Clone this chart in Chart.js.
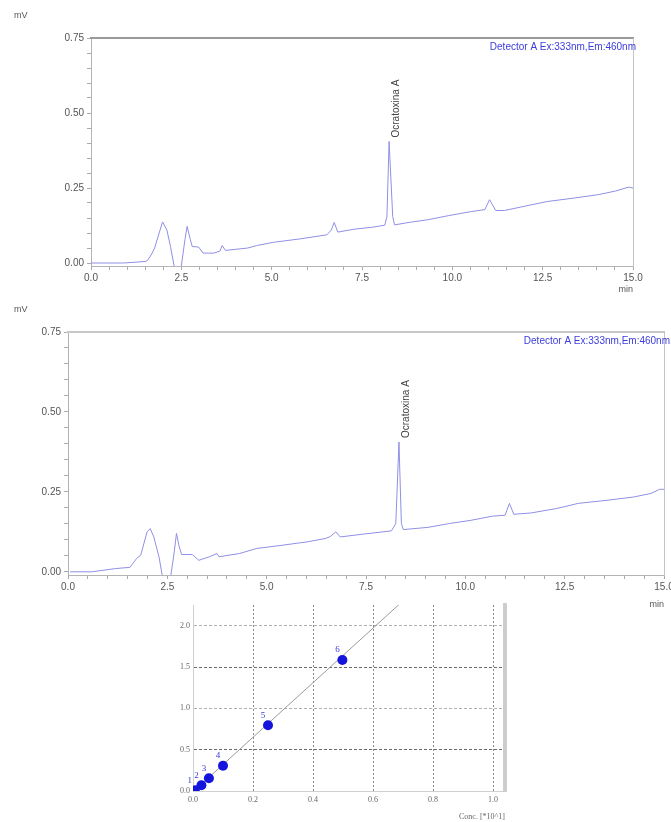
<!DOCTYPE html>
<html lang="en">

<head>
  <meta charset="UTF-8" />
  <title>Ochratoxin A chromatograms</title>
  <script src="https://cdn.jsdelivr.net/npm/chart.js"></script>
  <style>
    * {
      padding: 0;
      margin: 0;
    }

    html, body {
      background-color: #ffffff;
      width: 671px;
      height: 822px;
      overflow: hidden;
    }

    .panel {
      position: absolute;
      left: 0;
    }
  </style>
</head>

<body>
  <div class="panel" style="top:0px;"><canvas id="chromA" width="671" height="295"></canvas></div>
  <div class="panel" style="top:295px;"><canvas id="chromB" width="671" height="315"></canvas></div>
  <div class="panel" style="top:592px;"><canvas id="calib" width="671" height="230"></canvas></div>
</body>

<script>
  // Chromatogram 1 (retention time in min, signal in mV)
  const timeA = [0.0, 0.9, 1.5, 1.56, 1.68, 1.76, 1.98, 2.1, 2.2, 2.3, 2.4, 2.5, 2.6, 2.66, 2.75, 2.8, 2.98, 3.1, 3.4, 3.57,
    3.63, 3.72, 4.34, 4.58, 5.05, 5.76, 6.53, 6.65, 6.73, 6.83, 7.3, 7.77, 8.13, 8.19, 8.25, 8.35, 8.4, 8.84, 9.31, 9.9,
    10.5, 10.9, 11.03, 11.2, 11.44, 12.03, 12.63, 13.34, 14.05, 14.52, 14.88, 15.0];
  const signalA = [0.0, 0.0, 0.005, 0.008, 0.03, 0.05, 0.137, 0.11, 0.055, -0.01, -0.04, -0.01, 0.078, 0.122, 0.078, 0.055, 0.053, 0.033, 0.033, 0.04,
    0.058, 0.042, 0.05, 0.058, 0.069, 0.08, 0.094, 0.11, 0.135, 0.103, 0.113, 0.119, 0.126, 0.155, 0.405, 0.155, 0.127, 0.136, 0.144, 0.158,
    0.171, 0.178, 0.211, 0.175, 0.175, 0.19, 0.205, 0.216, 0.228, 0.24, 0.253, 0.25];

  // Chromatogram 2
  const timeB = [0.05, 0.6, 1.19, 1.56, 1.73, 1.83, 1.99, 2.07, 2.16, 2.29, 2.37, 2.48, 2.59, 2.68, 2.73, 2.8, 2.86, 3.13, 3.29, 3.56,
    3.75, 3.8, 4.31, 4.75, 5.39, 6.04, 6.47, 6.6, 6.74, 6.85, 7.44, 8.14, 8.25, 8.33, 8.39, 8.44, 9.06, 9.6, 10.14, 10.68,
    11.0, 11.11, 11.22, 11.65, 12.3, 12.84, 13.59, 14.24, 14.67, 14.89, 15.0];
  const signalB = [0.0, 0.0, 0.01, 0.014, 0.042, 0.052, 0.125, 0.135, 0.109, 0.047, -0.01, -0.04, -0.01, 0.068, 0.12, 0.078, 0.054, 0.054, 0.036, 0.047,
    0.057, 0.047, 0.057, 0.073, 0.083, 0.094, 0.104, 0.11, 0.125, 0.109, 0.118, 0.128, 0.151, 0.406, 0.151, 0.132, 0.139, 0.151, 0.161, 0.174,
    0.177, 0.214, 0.18, 0.184, 0.198, 0.214, 0.224, 0.234, 0.245, 0.258, 0.258];

  // Calibration curve
  const calConc = [0.006, 0.028, 0.053, 0.1, 0.25, 0.498];
  const calArea = [0.008, 0.069, 0.155, 0.306, 0.796, 1.584];
  const calLabels = ['1', '2', '3', '4', '5', '6'];
  const fitConc = [0, 0.7];
  const fitArea = [-0.01, 2.3];

  const detectorText = 'Detector A Ex:333nm,Em:460nm';
  const peakName = 'Ocratoxina A';

  const sans = "'Liberation Sans', Arial, sans-serif";
  const serif = "'Liberation Serif', 'Times New Roman', serif";

  Chart.defaults.font.family = sans;
  Chart.defaults.animation = false;

  function isMultiple(v, step) {
    const r = v / step;
    return Math.abs(r - Math.round(r)) < 1e-6;
  }

  // Draws free text; each item gives its own position from the chart
  function textPlugin(items) {
    return {
      id: 'freeText',
      afterDraw(chart) {
        const ctx = chart.ctx;
        items.forEach(item => {
          const pos = item.place(chart);
          ctx.save();
          ctx.font = item.font;
          ctx.fillStyle = item.color;
          ctx.textAlign = item.align || 'left';
          ctx.textBaseline = item.baseline || 'middle';
          ctx.translate(pos[0], pos[1]);
          if (item.rotate) ctx.rotate(item.rotate);
          ctx.fillText(item.text, 0, 0);
          ctx.restore();
        });
      }
    };
  }

  function chromatogram(id, times, signal, box) {
    const canvas = document.getElementById(id);
    const W = canvas.width, H = canvas.height;
    const peak = signal.indexOf(Math.max(...signal));
    const labels = [
      { text: 'mV', font: '9px ' + sans, color: '#555', place: c => [box.unitX, box.unitY] },
      { text: detectorText, font: '10px ' + sans, color: '#3c3cdc', align: 'right', baseline: 'top',
        place: c => [c.chartArea.right + box.legendDx, c.chartArea.top + 4] },
      { text: peakName, font: '10px ' + sans, color: '#444', rotate: -Math.PI / 2,
        place: c => [c.scales.x.getPixelForValue(times[peak]) + 7, c.scales.y.getPixelForValue(signal[peak]) - 4] }
    ];

    return new Chart(canvas, {
      type: 'scatter',
      data: {
        datasets: [{
          data: times.map((t, i) => ({ x: t, y: signal[i] })),
          showLine: true,
          borderColor: '#8f8fe6',
          borderWidth: 1,
          pointRadius: 0,
          tension: 0
        }]
      },
      options: {
        responsive: false,
        layout: { padding: { left: 0, top: box.top, right: W - box.right, bottom: 0 } },
        plugins: { legend: { display: false }, tooltip: { enabled: false } },
        scales: {
          x: {
            type: 'linear', min: 0, max: 15,
            ticks: {
              stepSize: 0.5, maxTicksLimit: 100, autoSkip: false, maxRotation: 0, padding: 2,
              color: '#555', font: { size: 10 },
              callback: v => isMultiple(v, 2.5) ? v.toFixed(1) : ''
            },
            grid: { drawOnChartArea: false, tickLength: 4, color: '#aaa' },
            border: { color: '#b4b4b4' },
            title: { display: true, text: 'min', align: 'end', color: '#555', font: { size: 9 }, padding: 0 },
            afterFit: s => { s.height = H - box.bottom; s.paddingLeft = 0; s.paddingRight = 0; }
          },
          y: {
            type: 'linear', min: -0.01, max: 0.75,
            ticks: {
              stepSize: 0.05, maxTicksLimit: 100, autoSkip: false, includeBounds: false, padding: 3,
              color: '#555', font: { size: 10 },
              callback: v => isMultiple(v, 0.25) ? v.toFixed(2) : ''
            },
            grid: { drawOnChartArea: false, tickLength: 4, color: '#aaa' },
            border: { color: '#b4b4b4' },
            afterFit: s => { s.width = box.left; s.paddingTop = 0; s.paddingBottom = 0; }
          },
          xTop: {
            type: 'linear', position: 'top',
            ticks: { display: false },
            grid: { display: false },
            border: { color: box.frameColor, width: box.frameWidth },
            afterFit: s => { s.height = 0; }
          },
          yRight: {
            type: 'linear', position: 'right',
            ticks: { display: false },
            grid: { display: false },
            border: { color: '#c4c4c4', width: 1 },
            afterFit: s => { s.width = 0; }
          }
        }
      },
      plugins: [textPlugin(labels)]
    });
  }

  chromatogram('chromA', timeA, signalA, {
    left: 91, right: 633, top: 38, bottom: 266,
    unitX: 14, unitY: 16, legendDx: 3, frameColor: '#9a9a9a', frameWidth: 2
  });

  chromatogram('chromB', timeB, signalB, {
    left: 68, right: 664, top: 37, bottom: 280,
    unitX: 14, unitY: 15, legendDx: 6, frameColor: '#c8c8c8', frameWidth: 2
  });

  // Calibration plot
  const calCanvas = document.getElementById('calib');
  const calBox = { left: 193, right: 505, top: 13, bottom: 199 };
  const calText = calLabels.map((lab, i) => ({
    text: lab, font: '9px ' + serif, color: '#3a3ad8', align: 'center',
    place: c => [c.scales.x.getPixelForValue(calConc[i]) - 5, c.scales.y.getPixelForValue(calArea[i]) - 10]
  }));

  new Chart(calCanvas, {
    type: 'scatter',
    data: {
      datasets: [{
        data: calConc.map((c, i) => ({ x: c, y: calArea[i] })),
        backgroundColor: '#1414dc',
        borderWidth: 0,
        pointRadius: 5
      }, {
        data: fitConc.map((c, i) => ({ x: c, y: fitArea[i] })),
        showLine: true,
        borderColor: '#9a9a9a',
        borderWidth: 1,
        pointRadius: 0
      }]
    },
    options: {
      responsive: false,
      layout: { padding: { left: 0, top: calBox.top, right: calCanvas.width - calBox.right, bottom: 0 } },
      plugins: { legend: { display: false }, tooltip: { enabled: false } },
      scales: {
        x: {
          type: 'linear', min: 0, max: 1.04,
          ticks: {
            stepSize: 0.2, includeBounds: false, maxRotation: 0, padding: 4,
            color: '#666', font: { size: 8, family: serif },
            callback: v => v.toFixed(1)
          },
          grid: {
            drawTicks: false,
            color: c => c.tick && c.tick.value === 0 ? 'rgba(0,0,0,0)' : '#8a8a8a'
          },
          border: { color: '#cfcfcf', dash: [2, 2] },
          title: { display: true, text: 'Conc. [*10^1]', align: 'end', color: '#666', font: { size: 8, family: serif }, padding: 0 },
          afterFit: s => { s.height = 230 - calBox.bottom; s.paddingLeft = 0; s.paddingRight = 0; }
        },
        y: {
          type: 'linear', min: 0, max: 2.25,
          ticks: {
            stepSize: 0.5, includeBounds: false, padding: 3,
            color: '#666', font: { size: 8, family: serif },
            callback: v => v.toFixed(1)
          },
          grid: {
            drawTicks: false,
            color: c => {
              if (!c.tick || c.tick.value === 0) return 'rgba(0,0,0,0)';
              return isMultiple(c.tick.value, 1) ? '#b0b0b0' : '#6a6a6a';
            }
          },
          border: { color: '#cfcfcf', dash: [3, 2] },
          afterFit: s => { s.width = calBox.left; s.paddingTop = 0; s.paddingBottom = 0; }
        },
        yRight: {
          type: 'linear', position: 'right',
          ticks: { display: false },
          grid: { display: false },
          border: { color: '#cdcdcd', width: 4 },
          afterFit: s => { s.width = 0; }
        }
      }
    },
    plugins: [textPlugin(calText)]
  });
</script>

</html>
